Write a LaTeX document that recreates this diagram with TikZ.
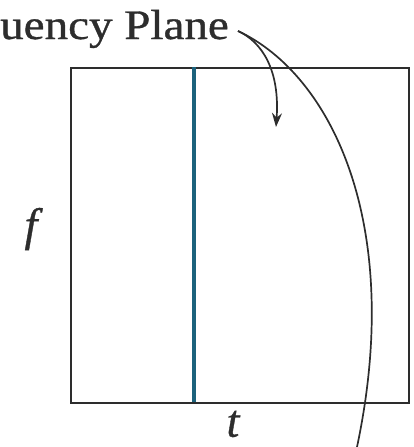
\documentclass[tikz,border=0pt]{standalone}
\usepackage{fontspec}
\setmainfont{Liberation Serif}[FakeBold=0.8]
\usetikzlibrary{arrows.meta}
\definecolor{teal1}{RGB}{28,98,124}
\definecolor{ink}{RGB}{45,45,45}
\begin{document}
\begin{tikzpicture}[x=1pt,y=-1pt,
  lbl/.style={inner sep=0pt,font=\fontsize{42}{46}\selectfont,text=ink},
  var/.style={inner sep=0pt,font=\fontsize{46}{50}\selectfont\itshape,text=ink},
  frame/.style={draw=ink,line width=2pt},
  conn/.style={draw=ink,line width=1.7pt}]
\useasboundingbox (0,0) rectangle (413,447);
\node[frame,minimum width=338pt,minimum height=335pt,anchor=north west,inner sep=0pt] (box) at (70,67) {};
\coordinate (vt) at (194,67);
\coordinate (vb) at (194,402);
\draw[teal1,line width=4.5pt] (vt) -- (vb);
\node[lbl,anchor=base west,xscale=1.12,transform shape] (title) at (0,39) {uency Plane};
\node[var] (f) at (31,229) {f};
\node[var] (t) at (233,424) {t};
\coordinate (start) at (238,31);
\coordinate (tip) at (276,127);
\coordinate (endc) at (357,447);
\draw[conn,-{Stealth[length=14pt,width=10pt]}] (start) .. controls (262,42) and (280,70) .. (tip);
\draw[conn] (start) .. controls (332,75) and (404,225) .. (endc);
\end{tikzpicture}
\end{document}
